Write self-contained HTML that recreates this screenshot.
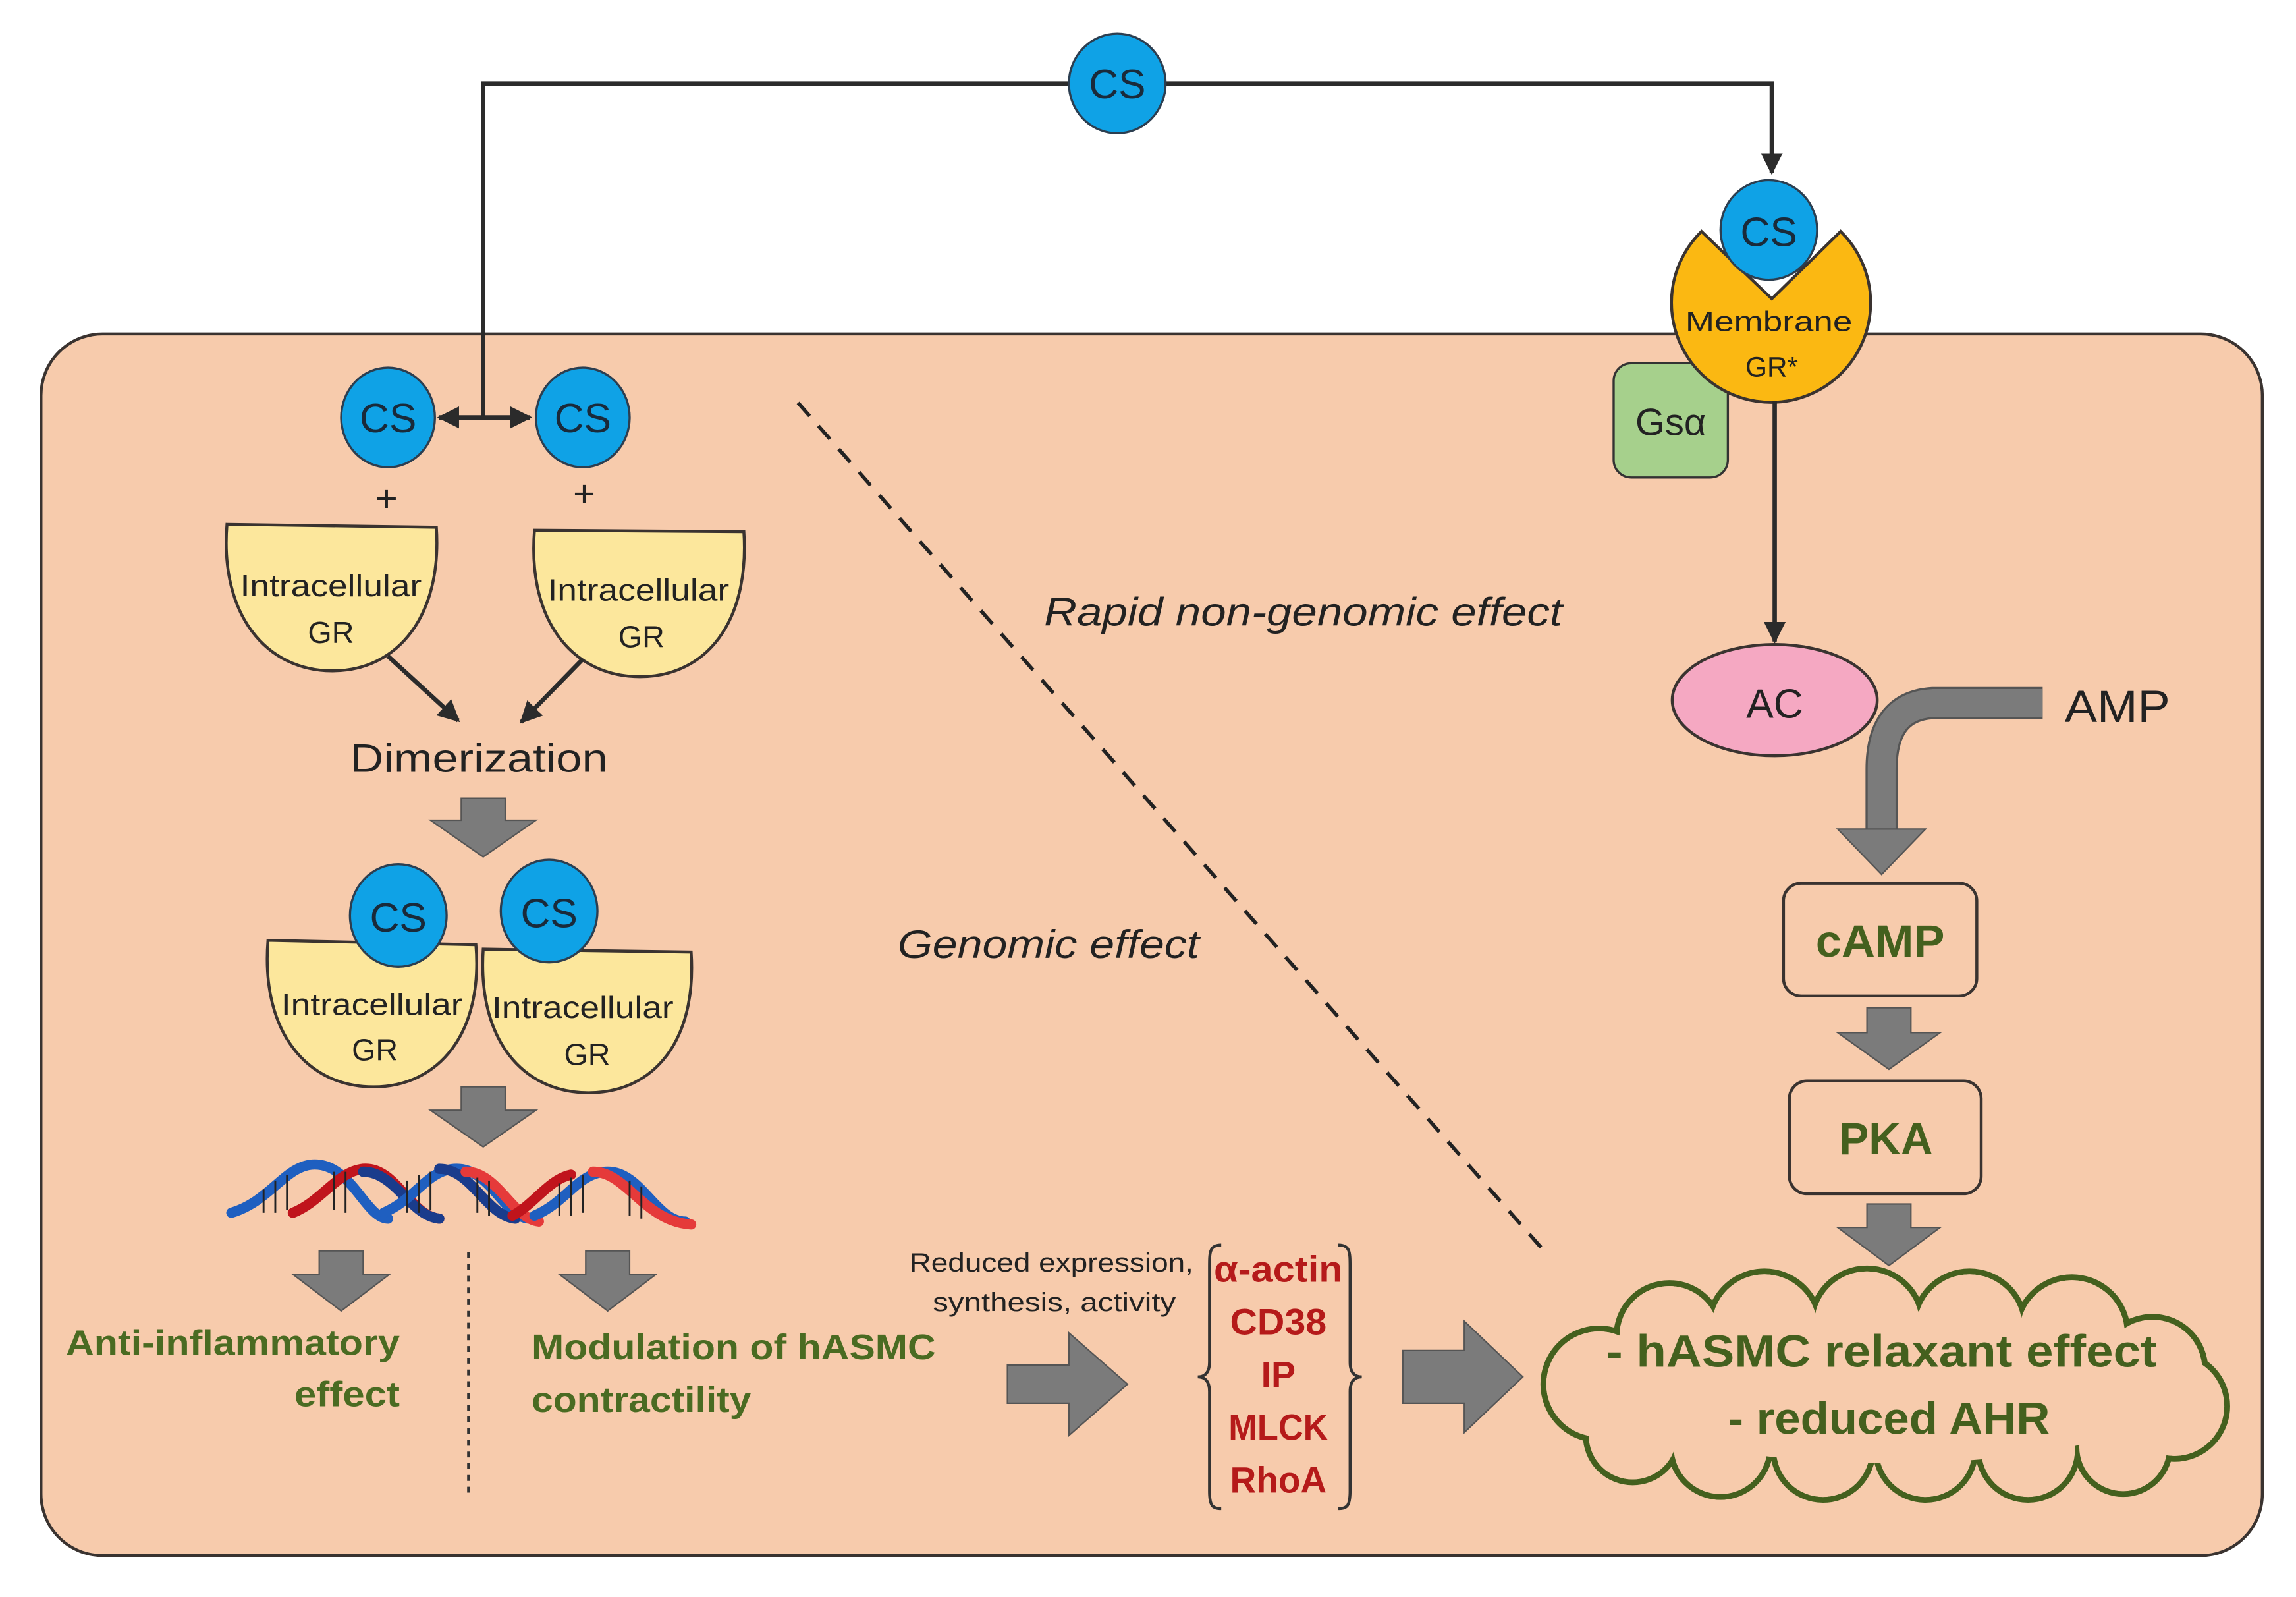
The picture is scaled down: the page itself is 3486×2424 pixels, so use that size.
<!DOCTYPE html>
<html><head><meta charset="utf-8"><style>html,body{margin:0;padding:0;background:#fff}svg{display:block}</style></head>
<body>
<svg width="3486" height="2424" viewBox="0 0 1568 1090.3" preserveAspectRatio="none" xmlns="http://www.w3.org/2000/svg" font-family="'Liberation Sans', sans-serif">
<defs>
<marker id="ah" viewBox="0 0 10 10" refX="9" refY="5" markerWidth="5" markerHeight="5" orient="auto-start-reverse"><path d="M0,0 L10,5 L0,10 Z" fill="#2b2b2b"/></marker>
</defs>
<rect x="0" y="0" width="1568" height="1091" fill="#fff"/>
<rect x="28" y="228" width="1517" height="834" rx="42" fill="#f7cbac" stroke="#3a3330" stroke-width="2"/>
<polyline points="330,286 330,57 1210,57 1210,118" fill="none" stroke="#2b2b2b" stroke-width="3" marker-end="url(#ah)"/>
<line x1="300" y1="285" x2="362" y2="285" stroke="#2b2b2b" stroke-width="3" marker-start="url(#ah)" marker-end="url(#ah)"/>
<g fill="#0fa2e6" stroke="#2c3e50" stroke-width="1.5">
<ellipse cx="763" cy="57" rx="33" ry="34"/>
<ellipse cx="265" cy="285" rx="32" ry="34"/>
<ellipse cx="398" cy="285" rx="32" ry="34"/>
</g>
<g font-size="28" fill="#1a2a3a" text-anchor="middle">
<text x="763" y="67">CS</text><text x="265" y="295">CS</text><text x="398" y="295">CS</text>
</g>
<g font-size="26" fill="#222" text-anchor="middle"><text x="264" y="349">+</text><text x="399" y="346">+</text></g>
<g fill="#fce79c" stroke="#3a3330" stroke-width="2">
<path d="M155,358 L298,360 C302,420 272,458 227,458 C182,458 150,420 155,358 Z"/>
<path d="M365,362 L508,363 C512,425 482,462 437,462 C392,462 360,425 365,362 Z"/>
</g>
<g font-size="21" fill="#222" text-anchor="middle">
<text x="226" y="407" textLength="124" lengthAdjust="spacingAndGlyphs">Intracellular</text><text x="226" y="439">GR</text>
<text x="436" y="410" textLength="124" lengthAdjust="spacingAndGlyphs">Intracellular</text><text x="438" y="442">GR</text>
</g>
<line x1="265" y1="448" x2="313" y2="492" stroke="#2b2b2b" stroke-width="3" marker-end="url(#ah)"/>
<line x1="398" y1="450" x2="356" y2="493" stroke="#2b2b2b" stroke-width="3" marker-end="url(#ah)"/>
<text x="327" y="527" font-size="27" fill="#222" text-anchor="middle" textLength="176" lengthAdjust="spacingAndGlyphs">Dimerization</text>
<g fill="#7b7b7b" stroke="#555" stroke-width="1">
<polygon points="315,545 345,545 345,560 366,560 330,585 294,560 315,560"/>
<polygon points="315,742 345,742 345,758 366,758 330,783 294,758 315,758"/>
<polygon points="218,854 248,854 248,870 266,870 233,895 200,870 218,870"/>
<polygon points="400,854 430,854 430,870 448,870 415,895 382,870 400,870"/>
<polygon points="1275,688 1305,688 1305,705 1325,705 1290,730 1255,705 1275,705"/>
<polygon points="1275,822 1305,822 1305,838 1325,838 1290,864 1255,838 1275,838"/>
<polygon points="688,932 730,932 730,910 770,945 730,980 730,958 688,958"/>
<polygon points="958,922 1000,922 1000,902 1040,940 1000,978 1000,958 958,958"/>
</g>
<g fill="#fce79c" stroke="#3a3330" stroke-width="2">
<path d="M183,642 L325,645 C330,705 300,742 255,742 C210,742 178,705 183,642 Z"/>
<path d="M330,648 L472,650 C476,710 447,746 402,746 C357,746 326,710 330,648 Z"/>
</g>
<g fill="#0fa2e6" stroke="#2c3e50" stroke-width="1.5">
<ellipse cx="272" cy="625" rx="33" ry="35"/><ellipse cx="375" cy="622" rx="33" ry="35"/>
</g>
<g font-size="28" fill="#1a2a3a" text-anchor="middle"><text x="272" y="636">CS</text><text x="375" y="633">CS</text></g>
<g font-size="21" fill="#222" text-anchor="middle">
<text x="254" y="693" textLength="124" lengthAdjust="spacingAndGlyphs">Intracellular</text><text x="256" y="724">GR</text>
<text x="398" y="695" textLength="124" lengthAdjust="spacingAndGlyphs">Intracellular</text><text x="401" y="727">GR</text>
</g>
<g fill="none" stroke-width="7" stroke-linecap="round">
<path d="M158,828 C185,820 195,795 215,795 C240,795 250,832 265,832" stroke="#1f5fc0"/>
<path d="M200,828 C220,820 230,800 248,798 C270,796 280,830 300,832" stroke="#c0141c"/>
<path d="M248,800 C270,800 280,830 300,832" stroke="#1a3c8c"/>
<path d="M262,828 C285,818 292,798 312,798 C335,798 345,832 362,832" stroke="#1f5fc0"/>
<path d="M300,798 C322,798 332,830 352,832" stroke="#1a3c8c"/>
<path d="M318,800 C340,800 350,832 368,834" stroke="#e53a3a"/>
<path d="M365,830 C388,820 395,800 415,800 C438,800 448,834 468,834" stroke="#1f5fc0"/>
<path d="M405,800 C428,800 440,834 472,836" stroke="#e53a3a"/>
<path d="M350,830 C365,822 375,805 390,802" stroke="#c0141c"/>
</g>
<g stroke="#222" stroke-width="1.3">
<line x1="180" y1="812" x2="180" y2="828"/><line x1="188" y1="806" x2="188" y2="828"/><line x1="196" y1="802" x2="196" y2="826"/>
<line x1="228" y1="800" x2="228" y2="826"/><line x1="236" y1="800" x2="236" y2="828"/>
<line x1="278" y1="806" x2="278" y2="828"/><line x1="286" y1="802" x2="286" y2="828"/><line x1="294" y1="800" x2="294" y2="826"/>
<line x1="326" y1="804" x2="326" y2="828"/><line x1="334" y1="806" x2="334" y2="830"/>
<line x1="382" y1="808" x2="382" y2="830"/><line x1="390" y1="804" x2="390" y2="830"/><line x1="398" y1="802" x2="398" y2="828"/>
<line x1="430" y1="806" x2="430" y2="830"/><line x1="438" y1="810" x2="438" y2="832"/>
</g>
<line x1="320" y1="855" x2="320" y2="1022" stroke="#333" stroke-width="2" stroke-dasharray="4,4"/>
<g font-size="24" font-weight="bold" fill="#4a6b22">
<text x="273" y="925" text-anchor="end" textLength="228" lengthAdjust="spacingAndGlyphs">Anti-inflammatory</text>
<text x="273" y="960" text-anchor="end" textLength="72" lengthAdjust="spacingAndGlyphs">effect</text>
<text x="363" y="928" textLength="276" lengthAdjust="spacingAndGlyphs">Modulation of hASMC</text>
<text x="363" y="964" textLength="150" lengthAdjust="spacingAndGlyphs">contractility</text>
</g>
<line x1="545" y1="275" x2="1058" y2="858" stroke="#222" stroke-width="2.5" stroke-dasharray="12,9"/>
<g font-size="27" font-style="italic" fill="#222" text-anchor="middle">
<text x="890" y="427" textLength="354" lengthAdjust="spacingAndGlyphs">Rapid non-genomic effect</text>
<text x="716" y="654" textLength="206" lengthAdjust="spacingAndGlyphs">Genomic effect</text>
</g>
<g font-size="18" fill="#222" text-anchor="middle">
<text x="718" y="868" textLength="194" lengthAdjust="spacingAndGlyphs">Reduced expression,</text>
<text x="720" y="895" textLength="166" lengthAdjust="spacingAndGlyphs">synthesis, activity</text>
</g>
<path d="M834,850 C826,850 826,855 826,865 L826,930 C826,938 822,940 818,940 C822,940 826,942 826,950 L826,1018 C826,1028 828,1030 834,1030" fill="none" stroke="#333" stroke-width="2"/>
<path d="M914,850 C922,850 922,855 922,865 L922,930 C922,938 926,940 930,940 C926,940 922,942 922,950 L922,1018 C922,1028 920,1030 914,1030" fill="none" stroke="#333" stroke-width="2"/>
<g font-size="25" font-weight="bold" fill="#b51a1a" text-anchor="middle">
<text x="873" y="875" textLength="88" lengthAdjust="spacingAndGlyphs">α-actin</text>
<text x="873" y="911" textLength="66" lengthAdjust="spacingAndGlyphs">CD38</text>
<text x="873" y="947">IP</text>
<text x="873" y="983" textLength="68" lengthAdjust="spacingAndGlyphs">MLCK</text>
<text x="873" y="1019" textLength="66" lengthAdjust="spacingAndGlyphs">RhoA</text>
</g>
<g fill="#f7cbac" stroke="#44601e" stroke-width="4">
<circle cx="1092" cy="945" r="38"/><circle cx="1140" cy="912" r="36"/><circle cx="1205" cy="906" r="38"/><circle cx="1275" cy="904" r="38"/><circle cx="1345" cy="906" r="38"/><circle cx="1415" cy="910" r="38"/><circle cx="1470" cy="935" r="36"/><circle cx="1485" cy="960" r="36"/>
<circle cx="1450" cy="988" r="32"/><circle cx="1385" cy="990" r="34"/><circle cx="1315" cy="990" r="34"/><circle cx="1245" cy="990" r="34"/><circle cx="1175" cy="988" r="34"/><circle cx="1115" cy="980" r="32"/>
</g>
<g fill="#f7cbac">
<circle cx="1092" cy="945" r="36"/><circle cx="1140" cy="912" r="34"/><circle cx="1205" cy="906" r="36"/><circle cx="1275" cy="904" r="36"/><circle cx="1345" cy="906" r="36"/><circle cx="1415" cy="910" r="36"/><circle cx="1470" cy="935" r="34"/><circle cx="1485" cy="960" r="34"/>
<circle cx="1450" cy="988" r="30"/><circle cx="1385" cy="990" r="32"/><circle cx="1315" cy="990" r="32"/><circle cx="1245" cy="990" r="32"/><circle cx="1175" cy="988" r="32"/><circle cx="1115" cy="980" r="30"/>
<ellipse cx="1290" cy="947" rx="200" ry="52"/>
</g>
<g font-size="31" font-weight="bold" fill="#44601e" text-anchor="middle">
<text x="1285" y="933" textLength="376" lengthAdjust="spacingAndGlyphs">- hASMC relaxant effect</text>
<text x="1290" y="979" textLength="220" lengthAdjust="spacingAndGlyphs">- reduced AHR</text>
</g>
<rect x="1102" y="248" width="78" height="78" rx="12" fill="#a6d08c" stroke="#333" stroke-width="1.5"/>
<text x="1141" y="297" font-size="26" fill="#222" text-anchor="middle">Gsα</text>
<path d="M1162,158 L1210,204 L1257,158 A68,68 0 1 1 1162,158 Z" fill="#fbb812" stroke="#3a3330" stroke-width="2"/>
<ellipse cx="1208" cy="157" rx="33" ry="34" fill="#0fa2e6" stroke="#2c3e50" stroke-width="1.5"/>
<text x="1208" y="168" font-size="28" fill="#1a2a3a" text-anchor="middle">CS</text>
<text x="1208" y="226" font-size="19" fill="#222" text-anchor="middle" textLength="114" lengthAdjust="spacingAndGlyphs">Membrane</text>
<text x="1210" y="257" font-size="19" fill="#222" text-anchor="middle">GR*</text>
<line x1="1212" y1="274" x2="1212" y2="438" stroke="#2b2b2b" stroke-width="3" marker-end="url(#ah)"/>
<ellipse cx="1212" cy="478" rx="70" ry="38" fill="#f5a8c2" stroke="#3a3330" stroke-width="2"/>
<text x="1212" y="490" font-size="28" fill="#222" text-anchor="middle">AC</text>
<path d="M1395,480 L1320,480 Q1285,482 1285,525 L1285,568" fill="none" stroke="#555" stroke-width="22"/>
<path d="M1395,480 L1320,480 Q1285,482 1285,525 L1285,568" fill="none" stroke="#7b7b7b" stroke-width="19"/>
<polygon points="1255,566 1315,566 1285,597" fill="#7b7b7b" stroke="#555" stroke-width="1"/>
<text x="1410" y="493" font-size="31" fill="#222" textLength="72" lengthAdjust="spacingAndGlyphs">AMP</text>
<rect x="1218" y="603" width="132" height="77" rx="12" fill="#f7cbac" stroke="#3a3330" stroke-width="2"/>
<text x="1284" y="653" font-size="31" font-weight="bold" fill="#44601e" text-anchor="middle" textLength="88" lengthAdjust="spacingAndGlyphs">cAMP</text>
<rect x="1222" y="738" width="131" height="77" rx="12" fill="#f7cbac" stroke="#3a3330" stroke-width="2"/>
<text x="1288" y="788" font-size="31" font-weight="bold" fill="#44601e" text-anchor="middle" textLength="64" lengthAdjust="spacingAndGlyphs">PKA</text>
</svg>
</body></html>
